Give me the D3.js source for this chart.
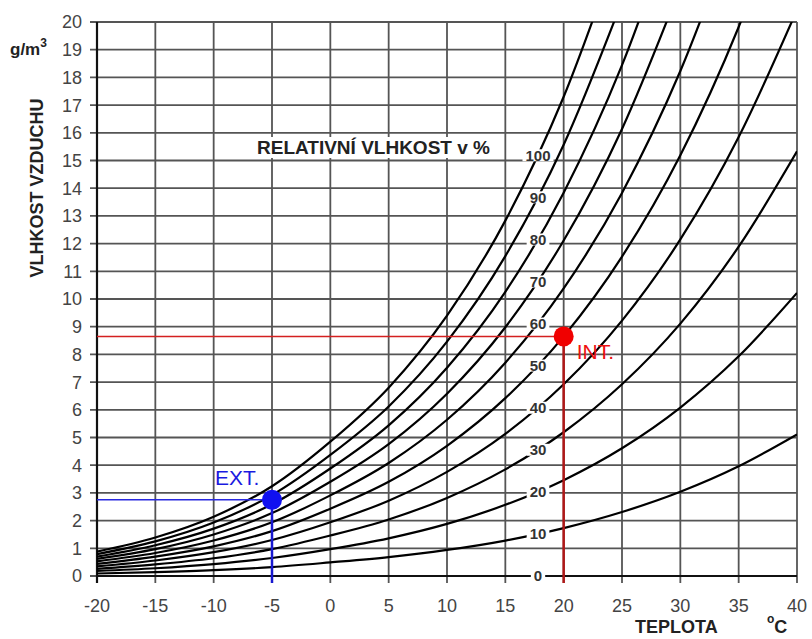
<!DOCTYPE html>
<html>
<head>
<meta charset="utf-8">
<script src="https://cdn.jsdelivr.net/npm/d3@7"></script>
<style>
  body { margin: 0; background: #fff; }
  svg { display: block; font-family: Arial, "Liberation Sans", sans-serif; }
</style>
</head>
<body>
<div id="chart"></div>
<script>
// temperatures (°C) where the curves were read
const temps = [-20, -15, -10, -5, 0, 5, 10, 15, 20, 25, 30, 35, 40];

// absolute humidity g/m3
const rh10 = [0.09, 0.14, 0.21, 0.32, 0.49, 0.68, 0.94, 1.28, 1.73, 2.31, 3.04, 3.96, 5.11];
const rh20 = [0.18, 0.28, 0.43, 0.65, 0.97, 1.36, 1.88, 2.57, 3.46, 4.61, 6.08, 7.93, 10.22];
const rh30 = [0.26, 0.42, 0.64, 0.97, 1.46, 2.04, 2.82, 3.85, 5.19, 6.92, 9.11, 11.89, 15.33];
const rh40 = [0.35, 0.56, 0.86, 1.30, 1.94, 2.72, 3.76, 5.13, 6.92, 9.22, 12.15, 15.85, 20.44];
const rh50 = [0.44, 0.70, 1.07, 1.62, 2.43, 3.40, 4.70, 6.42, 8.65, 11.53, 15.19, 19.82, 25.55];
const rh60 = [0.53, 0.83, 1.28, 1.94, 2.91, 4.08, 5.64, 7.70, 10.38, 13.83, 18.23, 23.78];
const rh70 = [0.62, 0.97, 1.50, 2.27, 3.40, 4.76, 6.58, 8.98, 12.11, 16.14, 21.27];
const rh80 = [0.70, 1.11, 1.71, 2.59, 3.88, 5.44, 7.52, 10.26, 13.84, 18.44, 24.30];
const rh90 = [0.79, 1.25, 1.93, 2.92, 4.37, 6.12, 8.46, 11.55, 15.57, 20.75];
const rh100 = [0.88, 1.39, 2.14, 3.24, 4.85, 6.80, 9.40, 12.83, 17.30, 23.05];

const curves = [
  { rh: 10, values: rh10 }, { rh: 20, values: rh20 }, { rh: 30, values: rh30 },
  { rh: 40, values: rh40 }, { rh: 50, values: rh50 }, { rh: 60, values: rh60 },
  { rh: 70, values: rh70 }, { rh: 80, values: rh80 }, { rh: 90, values: rh90 },
  { rh: 100, values: rh100 }
];

const xTicks = [-20, -15, -10, -5, 0, 5, 10, 15, 20, 25, 30, 35, 40];
const yTicks = [0, 1, 2, 3, 4, 5, 6, 7, 8, 9, 10, 11, 12, 13, 14, 15, 16, 17, 18, 19, 20];

const labelTemp = 17.8;
const extPoint = { t: -5, v: 2.75, label: 'EXT.' };
const intPoint = { t: 20, v: 8.65, label: 'INT.' };

const width = 812, height = 639;
const x = d3.scaleLinear().domain([-20, 40]).range([97, 797]);
const y = d3.scaleLinear().domain([0, 20]).range([576, 22]);

const svg = d3.select('#chart').append('svg').attr('width', width).attr('height', height);

svg.append('defs').append('clipPath').attr('id', 'plot-clip')
  .append('rect')
  .attr('x', x(-20)).attr('y', y(20))
  .attr('width', x(40) - x(-20)).attr('height', y(0) - y(20));

// grid
const grid = svg.append('g').attr('stroke', '#555').attr('stroke-width', 1.8);
grid.selectAll('.hl').data(yTicks).join('line')
  .attr('x1', x(-20) - 7).attr('x2', x(40))
  .attr('y1', d => y(d)).attr('y2', d => y(d));
grid.selectAll('.vl').data(xTicks).join('line')
  .attr('x1', d => x(d)).attr('x2', d => x(d))
  .attr('y1', y(20)).attr('y2', y(0) + 7);

// axes lines
svg.append('line').attr('x1', x(-20)).attr('x2', x(40)).attr('y1', y(0)).attr('y2', y(0))
  .attr('stroke', '#111').attr('stroke-width', 2.2);
svg.append('line').attr('x1', x(-20)).attr('x2', x(-20)).attr('y1', y(20)).attr('y2', y(0) + 7)
  .attr('stroke', '#111').attr('stroke-width', 2.2);

// tick labels
svg.append('g').selectAll('text').data(yTicks).join('text')
  .attr('x', 82).attr('y', d => y(d)).attr('dy', '0.36em')
  .attr('text-anchor', 'end').attr('font-size', 18).attr('fill', '#444')
  .text(d => d);
svg.append('g').selectAll('text').data(xTicks).join('text')
  .attr('x', d => x(d)).attr('y', 612)
  .attr('text-anchor', 'middle').attr('font-size', 18).attr('fill', '#444')
  .text(d => d);

// humidity curves
const line = d3.line()
  .x(d => x(d.t))
  .y(d => y(d.v))
  .curve(d3.curveMonotoneX);

const curveG = svg.append('g').attr('clip-path', 'url(#plot-clip)');
const paths = curveG.selectAll('path').data(curves).join('path')
  .attr('d', c => line(c.values.map((v, i) => ({ t: temps[i], v }))))
  .attr('fill', 'none').attr('stroke', '#000').attr('stroke-width', 2.2);

// curve labels at labelTemp
function yOnPath(node, px) {
  let lo = 0, hi = node.getTotalLength();
  for (let k = 0; k < 40; k++) {
    const mid = (lo + hi) / 2;
    if (node.getPointAtLength(mid).x < px) lo = mid; else hi = mid;
  }
  return node.getPointAtLength(lo).y;
}
const lx = x(labelTemp);
const labels = [{ rh: 0, py: y(0) }];
paths.each(function (c) { labels.push({ rh: c.rh, py: yOnPath(this, lx) }); });

const labG = svg.append('g');
labels.forEach(l => {
  const g = labG.append('g');
  const bg = g.append('rect');
  const t = g.append('text').attr('x', lx).attr('y', l.py).attr('dy', '0.36em')
    .attr('text-anchor', 'middle').attr('font-size', 15).attr('font-weight', 'bold')
    .attr('fill', '#333').text(l.rh);
  const b = t.node().getBBox();
  bg.attr('x', b.x - 3).attr('y', l.py - 6)
    .attr('width', b.width + 6).attr('height', 12).attr('fill', '#fff');
});

// INT point
svg.append('line').attr('x1', x(-20)).attr('x2', x(intPoint.t))
  .attr('y1', y(intPoint.v)).attr('y2', y(intPoint.v))
  .attr('stroke', '#d42020').attr('stroke-width', 1.5);
svg.append('line').attr('x1', x(intPoint.t)).attr('x2', x(intPoint.t))
  .attr('y1', y(intPoint.v)).attr('y2', y(0) + 7)
  .attr('stroke', '#b01818').attr('stroke-width', 2.5);
svg.append('circle').attr('cx', x(intPoint.t)).attr('cy', y(intPoint.v)).attr('r', 10)
  .attr('fill', '#f00000');
svg.append('text').attr('x', x(intPoint.t) + 13).attr('y', y(intPoint.v) + 23)
  .attr('font-size', 21).attr('fill', '#ee1010').text(intPoint.label);

// EXT point
svg.append('line').attr('x1', x(-20)).attr('x2', x(extPoint.t))
  .attr('y1', y(extPoint.v)).attr('y2', y(extPoint.v))
  .attr('stroke', '#2828e0').attr('stroke-width', 1.5);
svg.append('line').attr('x1', x(extPoint.t)).attr('x2', x(extPoint.t))
  .attr('y1', y(extPoint.v)).attr('y2', y(0) + 7)
  .attr('stroke', '#1818d0').attr('stroke-width', 2.5);
svg.append('circle').attr('cx', x(extPoint.t)).attr('cy', y(extPoint.v)).attr('r', 10)
  .attr('fill', '#1010f0');
svg.append('text').attr('x', x(extPoint.t) - 57).attr('y', y(extPoint.v) - 15)
  .attr('font-size', 21).attr('fill', '#1a1ae0').text(extPoint.label);

// titles
const titleG = svg.append('g');
const titleBg = titleG.append('rect');
const title = titleG.append('text').attr('x', 257).attr('y', 154)
  .attr('font-size', 19).attr('font-weight', 'bold').attr('fill', '#222')
  .text('RELATIVNÍ VLHKOST v %');
const tb = title.node().getBBox();
titleBg.attr('x', tb.x - 3).attr('y', tb.y).attr('width', tb.width + 6)
  .attr('height', tb.height).attr('fill', '#fff');

svg.append('text').attr('transform', 'translate(43,188) rotate(-90)')
  .attr('text-anchor', 'middle').attr('font-size', 18).attr('font-weight', 'bold')
  .attr('fill', '#222').text('VLHKOST VZDUCHU');

const unit = svg.append('text').attr('x', 10).attr('y', 55)
  .attr('font-size', 17).attr('font-weight', 'bold').attr('fill', '#222');
unit.append('tspan').text('g/m');
unit.append('tspan').attr('dy', -8).attr('font-size', 12).text('3');

svg.append('text').attr('x', 635).attr('y', 633)
  .attr('font-size', 18).attr('font-weight', 'bold').attr('fill', '#222').text('TEPLOTA');
const deg = svg.append('text').attr('x', 767).attr('y', 633)
  .attr('font-size', 18).attr('font-weight', 'bold').attr('fill', '#222');
deg.append('tspan').attr('dy', -10).attr('font-size', 12).text('o');
deg.append('tspan').attr('dy', 10).text('C');
</script>
</body>
</html>
